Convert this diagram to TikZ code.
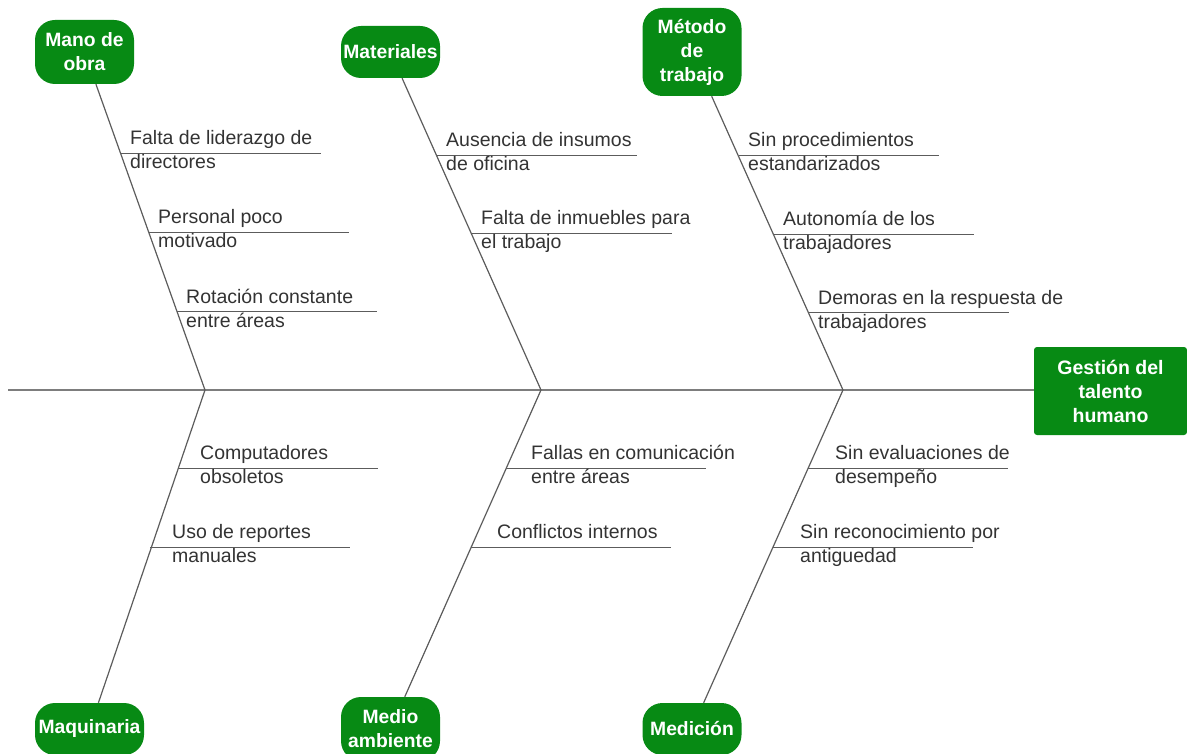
\documentclass[tikz,border=0pt]{standalone}
\usepackage{fontspec}
\setmainfont{Liberation Sans}
\usetikzlibrary{calc}
\definecolor{verde}{HTML}{078A14}
\definecolor{linea}{HTML}{5C5C5C}
\definecolor{texto}{HTML}{333333}

\begin{document}
\begin{tikzpicture}[
  x=1pt, y=-1pt,
  categoria/.style={
    fill=verde, text=white, rounded corners=20pt,
    minimum width=99pt, minimum height=52pt, align=center,
    inner sep=2pt, font=\bfseries\fontsize{19.3}{24}\selectfont
  },
  efecto/.style={
    fill=verde, text=white, rounded corners=3pt,
    minimum width=153pt, minimum height=88pt, align=center,
    inner sep=2pt, font=\bfseries\fontsize{19.5}{24}\selectfont
  },
  causa/.style={
    anchor=base west, align=left, text=texto, inner sep=0pt,
    font=\fontsize{19.5}{24}\selectfont
  },
  espina/.style={draw=linea!80, line width=1.3pt},
  hueso/.style={draw=linea, line width=1.2pt},
  sub/.style={draw=linea, line width=1pt}
]
  \useasboundingbox (0,0) rectangle (1187,754);

  % categorias
  \node[categoria, minimum height=64pt] (mano) at (84.5,52) {Mano de\\obra};
  \node[categoria] (mat)  at (390.5,52) {Materiales};
  \node[categoria, minimum height=88pt] (met) at (692,52) {Método\\de\\trabajo};
  \node[categoria, minimum width=109pt] (maq) at (89.5,729) {Maquinaria};
  \node[categoria, minimum height=64pt] (amb) at (390.5,729) {Medio\\ambiente};
  \node[categoria] (med)  at (692,729) {Medición};

  % efecto
  \node[efecto] (efecto) at (1110.5,391) {Gestión del\\talento\\humano};

  % espina central
  \coordinate (cola) at (8,390);
  \coordinate (j1) at (205,390);
  \coordinate (j2) at (541,390);
  \coordinate (j3) at (843,390);
  \draw[espina] (cola) -- (cola -| efecto.west);

  \draw[hueso] (j1) -- (mano);
  \draw[hueso] (j2) -- (mat);
  \draw[hueso] (j3) -- (met);
  \draw[hueso] (j1) -- (maq);
  \draw[hueso] (j2) -- (amb);
  \draw[hueso] (j3) -- (med);

  % causas
  \foreach \n/\x/\y/\dx/\primera/\segunda in {
    mo1/121/154/9/{Falta de liderazgo de}/{directores},
    mo2/149/233/9/{Personal poco}/{motivado},
    mo3/177/312/9/{Rotación constante}/{entre áreas},
    ma1/437/156/9/{Ausencia de insumos}/{de oficina},
    ma2/472/234/9/{Falta de inmuebles para}/{el trabajo},
    me1/739/156/9/{Sin procedimientos}/{estandarizados},
    me2/774/235/9/{Autonomía de los}/{trabajadores},
    me3/809/313/9/{Demoras en la respuesta de}/{trabajadores},
    mq1/178/468/22/{Computadores}/{obsoletos},
    mq2/150/547/22/{Uso de reportes}/{manuales},
    am1/506/468/25/{Fallas en comunicación}/{entre áreas},
    am2/471/547/26/{Conflictos internos}/{},
    md1/808/468/27/{Sin evaluaciones de}/{desempeño},
    md2/773/547/27/{Sin reconocimiento por}/{antiguedad}
  }{
    \coordinate (\n a) at (\x,\y);
    \coordinate (\n b) at (\x+200,\y);
    \draw[sub] (\n a) -- (\n b);
    \node[causa] (\n t) at ($(\n a)+(\dx,15)$) {\primera\\\segunda};
  }
\end{tikzpicture}
\end{document}
